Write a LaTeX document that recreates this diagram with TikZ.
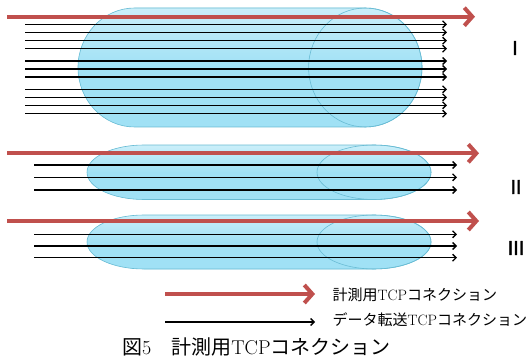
\documentclass[tikz,border=0pt]{standalone}
\usepackage{fontspec}
\newfontfamily\cjk{Noto Sans CJK JP}
\newfontfamily\cjkbold[FakeBold=2]{Noto Sans CJK JP}
\usetikzlibrary{arrows.meta}
\definecolor{redarr}{RGB}{192,80,77}
\definecolor{cylfillc}{RGB}{160,225,245}
\definecolor{cyledgec}{RGB}{105,188,212}
\tikzset{
  redline/.style={redarr, line width=4pt, -{Straight Barb[length=8pt,width=18pt,line width=4pt]}},
  blackline/.style={black, line width=1.5pt, -{Straight Barb[length=3.5pt,width=7pt,line width=1.3pt]}},
  cylbody/.style={fill=cylfillc, top color=cylfillc!55!white, bottom color=cylfillc, middle color=cylfillc, draw=cyledgec, line width=0.6pt},
  cylcap/.style={draw=cyledgec, line width=0.6pt},
  lbl/.style={font=\cjkbold\fontsize{19}{19}\selectfont, inner sep=0pt},
  legtxt/.style={font=\fontsize{15}{15}\selectfont, anchor=west, inner sep=0pt},
}
\begin{document}
\begin{tikzpicture}[x=1pt,y=1pt]
\useasboundingbox[fill=white] (0,0) rectangle (532,362);
% cylinder I
\path[cylbody] (134.7,354) -- (365.3,354) arc[start angle=90,end angle=-90,x radius=56.7,y radius=59.5] -- (134.7,235) arc[start angle=270,end angle=90,x radius=56.7,y radius=59.5] -- cycle;
\draw[cylcap] (365.3,294.5) ellipse[x radius=56.7,y radius=59.5];
% cylinder II
\path[cylbody] (144,217) -- (374,217) arc[start angle=90,end angle=-90,x radius=57,y radius=27.25] -- (144,162.5) arc[start angle=270,end angle=90,x radius=57,y radius=27.25] -- cycle;
\draw[cylcap] (374,189.75) ellipse[x radius=57,y radius=27.25];
% cylinder III
\path[cylbody] (144,147) -- (374,147) arc[start angle=90,end angle=-90,x radius=57,y radius=27] -- (144,93) arc[start angle=270,end angle=90,x radius=57,y radius=27] -- cycle;
\draw[cylcap] (374,120) ellipse[x radius=57,y radius=27];
% group I arrows
\foreach \y in {337.7,329.7,321.3,313.3,301,293,285,272.7,264.7,256.7,248.3}
  \draw[blackline] (25,\y) -- (447,\y);
\draw[redline] (7,345.3) -- (475,345.3);
% group II
\foreach \y in {197,184.7,172}
  \draw[blackline] (34,\y) -- (457,\y);
\draw[redline] (7,208.7) -- (479,208.7);
% group III
\foreach \y in {127.7,116,104.3}
  \draw[blackline] (34,\y) -- (457,\y);
\draw[redline] (7,141) -- (479,141);
% labels
\node[lbl] (l1) at (515,314) {Ⅰ};
\node[lbl] (l2) at (516,175) {Ⅱ};
\node[lbl] (l3) at (516,114) {Ⅲ};
% legend
\coordinate (r1) at (165,68);
\coordinate (r2) at (315,68);
\coordinate (b1) at (165,40);
\coordinate (b2) at (315,40);
\draw[redline] (r1) -- (r2);
\draw[blackline] (b1) -- (b2);
\node[legtxt] (t1) at (332.5,67) {{\cjk 計測用}TCP{\cjk コネクション}};
\node[legtxt] (t2) at (332.5,42) {{\cjk データ転送}TCP{\cjk コネクション}};
% caption
\node[font=\fontsize{20}{20}\selectfont, anchor=west, inner sep=0pt] (cap) at (122,15) {{\cjk 図}5{\cjk 　計測用}TCP{\cjk コネクション}};
\end{tikzpicture}
\end{document}
